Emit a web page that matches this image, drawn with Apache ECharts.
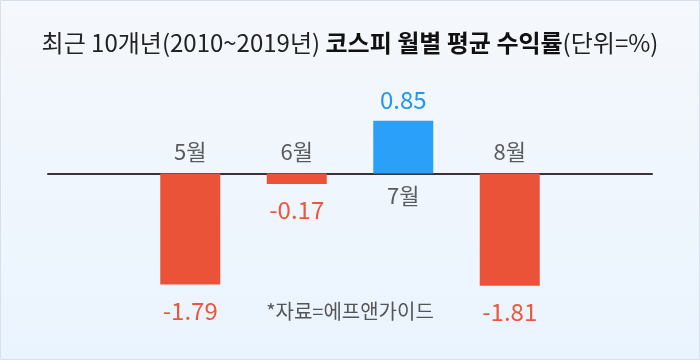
<!DOCTYPE html>
<html>
<head>
<meta charset="utf-8">
<script src="https://cdn.jsdelivr.net/npm/echarts@6/dist/echarts.min.js"></script>
<style>
html,body{margin:0;padding:0;background:#fff;}
#c{width:700px;height:360px;}
</style>
</head>
<body>
<div id="c"></div>
<script>
const categories = ['5월', '6월', '7월', '8월'];
const returns = [-1.79, -0.17, 0.85, -1.81];
const titleNormal1 = '최근 10개년(2010~2019년) ';
const titleBold = '코스피 월별 평균 수익률';
const titleNormal2 = '(단위=%)';
const sourceText = '*자료=에프앤가이드';

const FONT = '"Noto Sans CJK KR", "Noto Sans", sans-serif';
const RED = '#eb5339';
const RED_TXT = '#ee553b';
const BLUE = '#2aa0f8';
const BLUE_TXT = '#2196f3';

const chart = echarts.init(document.getElementById('c'), null, {renderer: 'canvas'});

const barData = returns.map(v => ({
  value: v,
  itemStyle: {color: v < 0 ? RED : BLUE},
  label: {
    position: v < 0 ? 'bottom' : 'top',
    distance: v < 0 ? 14 : 9,
    color: v < 0 ? RED_TXT : BLUE_TXT
  }
}));

const nameData = returns.map(v => ({
  value: 0,
  label: {position: v < 0 ? 'top' : 'bottom', distance: v < 0 ? 11 : 11}
}));

chart.setOption({
  backgroundColor: {
    type: 'linear', x: 0, y: 0, x2: 0, y2: 1,
    colorStops: [{offset: 0, color: '#f5f8fc'}, {offset: 1, color: '#eaf4fe'}]
  },
  animation: false,
  title: {
    text: '{n|' + titleNormal1 + '}{b|' + titleBold + '}{n|' + titleNormal2 + '}',
    left: 'center',
    top: 26,
    textStyle: {
      rich: {
        n: {fontFamily: FONT, fontSize: 24, color: '#222', fontWeight: 'normal'},
        b: {fontFamily: FONT, fontSize: 24, color: '#111', fontWeight: 'bold'}
      }
    }
  },
  graphic: [
    {type: 'rect', shape: {x: 0.5, y: 0.5, width: 699, height: 359},
     style: {fill: 'none', stroke: '#d6e1ec', lineWidth: 1}, silent: true, z: 100},
    {type: 'text', left: 'center', top: 301,
     style: {text: sourceText, font: '20px ' + FONT, fill: '#555'}}
  ],
  grid: [
    {left: 137, right: 137, top: 111.5, bottom: 62.5},
    {left: 48, right: 48, top: 111.5, bottom: 62.5}
  ],
  xAxis: [
    {type: 'category', gridIndex: 0, data: categories,
     axisLine: {show: false}, axisTick: {show: false}, axisLabel: {show: false}, splitLine: {show: false}},
    {type: 'value', gridIndex: 1, min: 0, max: 1,
     axisLine: {show: true, onZero: true, lineStyle: {color: '#3a3232', width: 2}},
     axisTick: {show: false}, axisLabel: {show: false}, splitLine: {show: false}}
  ],
  yAxis: [
    {type: 'value', gridIndex: 0, min: -2, max: 1, show: false, splitLine: {show: false}},
    {type: 'value', gridIndex: 1, min: -2, max: 1, show: false, splitLine: {show: false}}
  ],
  series: [
    {
      type: 'bar', xAxisIndex: 0, yAxisIndex: 0, barWidth: 60,
      data: barData,
      label: {show: true, fontFamily: FONT, fontSize: 24, formatter: p => p.value.toFixed(2)},
      z: 3
    },
    {
      type: 'scatter', xAxisIndex: 0, yAxisIndex: 0, symbolSize: 0,
      data: nameData,
      label: {show: true, formatter: p => p.name, fontFamily: FONT, fontSize: 22, color: '#333'},
      z: 4
    }
  ]
});
</script>
</body>
</html>
